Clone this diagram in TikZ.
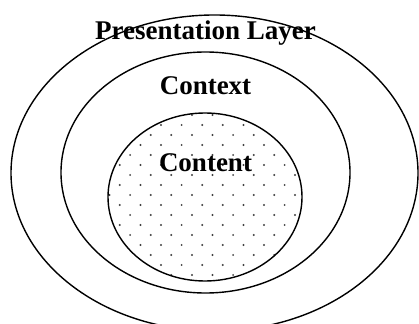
\documentclass[tikz,border=0pt]{standalone}
\usepackage{fontspec}
\setmainfont{Liberation Serif}
\usepackage{tikz}

\begin{document}
\begin{tikzpicture}[x=1pt, y=-1pt, line width=1.4pt,
  every label/.style={font=\fontsize{27}{30}\selectfont\bfseries, anchor=base, inner sep=0pt},
  dot/.style={fill=black!75}]

\useasboundingbox (0,0) rectangle (419,323);
\clip (0,0) rectangle (419,323);

% dotted content area
\begin{scope}
  \clip (205,197) ellipse [x radius=97, y radius=84];
  \foreach \i in {-1,...,16}
    \foreach \j in {-6,...,6}
      \fill [dot] ({161+20.6*\j+10.3*mod(\i,2)},{125+10*\i}) circle (1.1);
\end{scope}

% layers
\draw (214.5,173) ellipse [x radius=203.5, y radius=158];
\draw (205.5,172.5) ellipse [x radius=144.5, y radius=120.5];
\draw (205,197) ellipse [x radius=97, y radius=84];

\foreach \l/\n/\y in {Presentation Layer/presentation/39.3, Context/context/95, Content/content/171.7}
  \node [every label] (\n) at (205.5,\y) {\l};

\end{tikzpicture}
\end{document}
